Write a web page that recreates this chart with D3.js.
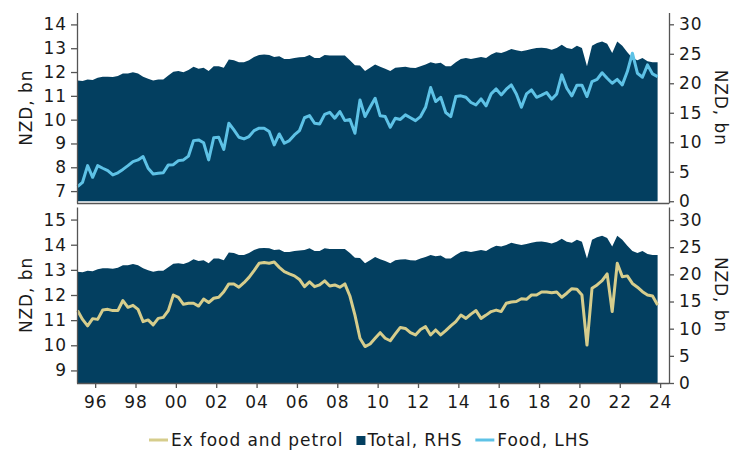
<!DOCTYPE html>
<html>
<head>
<meta charset="utf-8">
<script src="https://cdn.jsdelivr.net/npm/d3@7"></script>
<style>
  body { margin: 0; background: #fff; }
  svg text { font-family: "DejaVu Sans", Verdana, sans-serif; font-size: 17px; letter-spacing: 0.9px; fill: #1a1a1a; }
  .axis path, .axis line { stroke: #555; stroke-width: 1.3px; }
</style>
</head>
<body>
<svg id="chart" width="731" height="452"></svg>
<script>
// Quarterly data, 1995Q1 .. 2023Q4
const startYear = 1995;
const total = [20.49,20.38,20.66,20.55,20.94,21.11,21.11,21.05,21.22,21.67,21.67,21.89,21.67,21.11,20.77,20.49,20.66,20.66,21.33,21.95,22.06,21.89,22.23,22.79,22.45,22.62,22.06,22.9,22.9,22.62,24.02,23.91,23.57,23.57,23.91,24.47,24.81,24.86,24.81,24.47,24.58,24.13,24.13,24.30,24.41,24.47,24.81,24.30,24.30,24.81,24.69,24.69,24.69,24.69,23.91,23.07,
  23.0,22.06,22.62,23.18,22.79,22.45,22.06,22.62,22.73,22.79,22.62,22.57,22.90,23.18,23.57,23.35,23.46,22.90,22.90,23.57,24.13,24.30,24.13,24.30,24.47,24.30,24.86,25.25,25.14,25.42,25.81,25.59,25.42,25.59,25.81,25.98,26.04,25.93,25.70,25.98,26.54,25.98,25.81,26.37,25.98,22.90,26.37,26.82,27.10,26.71,25.14,27.10,26.37,25.25,24.30,23.91,24.30,23.74,23.57,23.57];
const food = [7.19,7.37,8.07,7.58,8.07,7.96,7.86,7.68,7.77,7.91,8.07,8.24,8.31,8.45,7.96,7.72,7.75,7.77,8.10,8.11,8.28,8.31,8.47,9.12,9.15,9.03,8.31,9.24,9.26,8.75,9.85,9.57,9.26,9.19,9.29,9.54,9.64,9.64,9.50,8.94,9.40,9.01,9.12,9.36,9.54,10.08,10.17,9.85,9.82,10.22,10.31,10.06,10.34,9.96,10.01,9.43,
  10.83,10.13,10.52,10.9,10.16,10.13,9.68,10.06,10.01,10.2,10.08,9.96,10.13,10.52,11.35,10.76,10.94,10.3,10.13,10.97,11.0,10.94,10.72,10.62,10.87,10.58,11.08,11.29,11.04,11.28,11.46,11.08,10.52,11.08,11.25,10.94,11.03,11.14,10.86,11.08,11.88,11.32,11.0,11.45,11.45,10.97,11.6,11.69,11.97,11.74,11.53,11.69,11.46,12.02,12.79,11.95,11.78,12.3,11.92,11.81];
const exFood = [11.38,11.03,10.77,11.06,11.03,11.40,11.43,11.38,11.38,11.78,11.51,11.59,11.43,10.94,11.01,10.81,11.07,11.11,11.38,12.0,11.91,11.63,11.67,11.67,11.56,11.84,11.70,11.87,11.91,12.13,12.44,12.44,12.31,12.49,12.70,12.97,13.26,13.29,13.26,13.31,13.10,12.93,12.84,12.76,12.62,12.33,12.52,12.33,12.40,12.56,12.36,12.40,12.31,12.44,11.96,11.20,
  10.28,9.95,10.05,10.28,10.50,10.28,10.18,10.45,10.71,10.67,10.50,10.41,10.63,10.74,10.41,10.61,10.41,10.58,10.77,10.94,11.20,11.07,11.24,11.38,11.07,11.20,11.34,11.40,11.34,11.67,11.72,11.74,11.85,11.83,12.0,12.0,12.12,12.12,12.09,12.12,11.91,12.07,12.25,12.23,12.0,10.01,12.27,12.40,12.57,12.84,11.34,13.26,12.73,12.76,12.46,12.31,12.13,12.0,11.96,11.60];
const xTickYears = [1996,1998,2000,2002,2004,2006,2008,2010,2012,2014,2016,2018,2020,2022,2024];
const topLeftTicks = [7,8,9,10,11,12,13,14];
const botLeftTicks = [9,10,11,12,13,14,15];
const rightTicks = [0,5,10,15,20,25,30];
const legendItems = [
  {label: "Ex food and petrol", type: "line", color: "#d6cd8c"},
  {label: "Total, RHS", type: "square", color: "#033f60"},
  {label: "Food, LHS", type: "line", color: "#5ec2e6"}
];
const yAxisTitle = "NZD, bn";

const colTotal = "#033f60", colFood = "#5ec2e6", colEx = "#d6cd8c";
const dates = total.map((_, i) => startYear + 0.125 + i * 0.25);

const svg = d3.select("#chart");
const L = 77, R = 669;
const x = d3.scaleLinear().domain([1995.1, 2024.44]).range([L, R]);
const intFmt = d3.format("d");

function panel(top, bottom, leftDomain, rightDomain, leftTicks, series, color, showX) {
  const yL = d3.scaleLinear().domain(leftDomain).range([bottom, top]);
  const yR = d3.scaleLinear().domain(rightDomain).range([bottom, top]);
  const g = svg.append("g");
  const area = d3.area().x((d, i) => x(dates[i])).y0(yR(0)).y1(d => yR(d));
  g.append("path").datum(total).attr("d", area).attr("fill", colTotal);
  const line = d3.line().x((d, i) => x(dates[i])).y(d => yL(d));
  g.append("path").datum(series).attr("d", line).attr("fill", "none")
    .attr("stroke", color).attr("stroke-width", 3).attr("stroke-linejoin", "round");

  const xa = g.append("g").attr("class", "axis").attr("transform", `translate(0,${bottom})`);
  if (showX) {
    xa.call(d3.axisBottom(x).tickValues(xTickYears).tickSize(5).tickPadding(8)
      .tickFormat(d => String(d % 100).padStart(2, "0")).tickSizeOuter(0));
  } else {
    xa.call(d3.axisBottom(x).tickValues([]).tickSizeOuter(0));
  }
  xa.select(".domain").attr("d", `M${L},0.5H${R}`);

  g.append("g").attr("class", "axis").attr("transform", `translate(${L},0)`)
    .call(d3.axisLeft(yL).tickValues(leftTicks).tickFormat(intFmt).tickSize(6).tickPadding(4).tickSizeOuter(0));
  g.append("g").attr("class", "axis").attr("transform", `translate(${R},0)`)
    .call(d3.axisRight(yR).tickValues(rightTicks).tickFormat(intFmt).tickSize(5).tickPadding(5).tickSizeOuter(0));
  svg.selectAll(".axis text").style("font-size", "17px");

  const mid = (top + bottom) / 2;
  g.append("text").attr("transform", `translate(32,${mid}) rotate(-90)`)
    .attr("text-anchor", "middle").text(yAxisTitle);
  g.append("text").attr("transform", `translate(715,${mid}) rotate(90)`)
    .attr("text-anchor", "middle").text(yAxisTitle);
}

panel(12.5, 203, [6.5, 14.5], [-0.3, 32], topLeftTicks, food, colFood, false);
panel(207, 383, [8.5, 15.5], [0, 32.4], botLeftTicks, exFood, colEx, true);

// legend
const lg = svg.append("g");
let cx = 149;
const ly = 440;
legendItems.forEach(it => {
  if (it.type === "line") {
    lg.append("line").attr("x1", cx).attr("x2", cx + 19).attr("y1", ly).attr("y2", ly)
      .attr("stroke", it.color).attr("stroke-width", 3);
    cx += 22;
  } else {
    lg.append("rect").attr("x", cx).attr("y", ly - 4).attr("width", 9).attr("height", 9).attr("fill", it.color);
    cx += 11;
  }
  const t = lg.append("text").attr("x", cx).attr("y", ly + 5.5).text(it.label);
  cx += t.node().getComputedTextLength() + 13;
});
</script>
</body>
</html>
